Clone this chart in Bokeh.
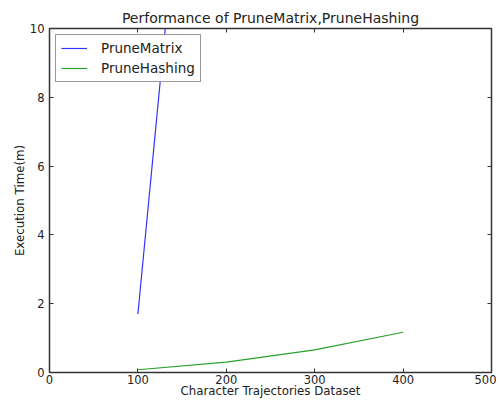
from bokeh.plotting import figure
from bokeh.models import Range1d, LinearAxis, FixedTicker, Legend, LegendItem
from bokeh.embed import file_html
from bokeh.resources import INLINE

datasets = [100, 200, 300, 400]
prune_matrix_x = [100, 200]
prune_matrix = [1.7, 28.5]
prune_hashing = [0.08, 0.30, 0.66, 1.17]
x_ticks = [0, 100, 200, 300, 400, 500]
y_ticks = [0, 2, 4, 6, 8, 10]

FONT = "DejaVu Sans"

p = figure(width=496, height=400, output_backend="svg", toolbar_location=None,
           x_range=Range1d(0, 500), y_range=Range1d(0, 10),
           title="Performance of PruneMatrix,PruneHashing",
           min_border_left=49, min_border_right=5, min_border_top=28, min_border_bottom=26)
p.title.align = "center"
p.title.text_font = FONT
p.title.text_font_size = "14px"
p.title.text_font_style = "normal"
p.title.text_color = "#222222"
p.title.standoff = 6
p.grid.visible = False
p.outline_line_color = "#333333"
p.outline_line_width = 1.5

r1 = p.line(prune_matrix_x, prune_matrix, line_color="#3333ff", line_width=1.2)
r2 = p.line(datasets, prune_hashing, line_color="#2ca02c", line_width=1.2)

for ax in (p.xaxis[0], p.yaxis[0]):
    ax.major_tick_in = 4
    ax.major_tick_out = 0
    ax.minor_tick_line_color = None
    ax.axis_line_color = "#333333"
    ax.major_tick_line_color = "#333333"
    ax.major_label_text_font = FONT
    ax.major_label_text_font_size = "11.5px"
    ax.major_label_text_color = "#222222"
    ax.axis_label_text_font = FONT
    ax.axis_label_text_font_size = "11.8px"
    ax.axis_label_text_font_style = "normal"
    ax.axis_label_text_color = "#222222"

p.xaxis[0].ticker = FixedTicker(ticks=x_ticks)
p.yaxis[0].ticker = FixedTicker(ticks=y_ticks)
p.xaxis[0].axis_label = "Character Trajectories Dataset"
p.yaxis[0].axis_label = "Execution Time(m)"
p.xaxis[0].major_label_standoff = 2
p.yaxis[0].major_label_standoff = 5
p.xaxis[0].axis_label_standoff = -3
p.yaxis[0].axis_label_standoff = 0

top = LinearAxis(ticker=FixedTicker(ticks=x_ticks),
                 major_label_overrides={t: "" for t in x_ticks},
                 major_label_text_font_size="1px",
                 major_tick_in=4, major_tick_out=0, minor_tick_line_color=None,
                 axis_line_color="#333333", major_tick_line_color="#333333", major_label_standoff=0)
right = LinearAxis(ticker=FixedTicker(ticks=y_ticks),
                   major_label_overrides={t: "" for t in y_ticks},
                   major_label_text_font_size="1px",
                   major_tick_in=4, major_tick_out=0, minor_tick_line_color=None,
                   axis_line_color="#333333", major_tick_line_color="#333333", major_label_standoff=0)
p.add_layout(top, "above")
p.add_layout(right, "right")

legend = Legend(items=[LegendItem(label="PruneMatrix", renderers=[r1]),
                       LegendItem(label="PruneHashing", renderers=[r2])],
                location="top_left")
legend.label_text_font = FONT
legend.label_text_font_size = "13.5px"
legend.label_text_color = "#222222"
legend.border_line_color = "#333333"
legend.border_line_width = 1
legend.glyph_width = 26
legend.glyph_height = 16
legend.label_height = 16
legend.spacing = 4
legend.padding = 5
legend.margin = 6
legend.label_standoff = 14
p.add_layout(legend)

open("out.html", "w").write(file_html(p, INLINE))
